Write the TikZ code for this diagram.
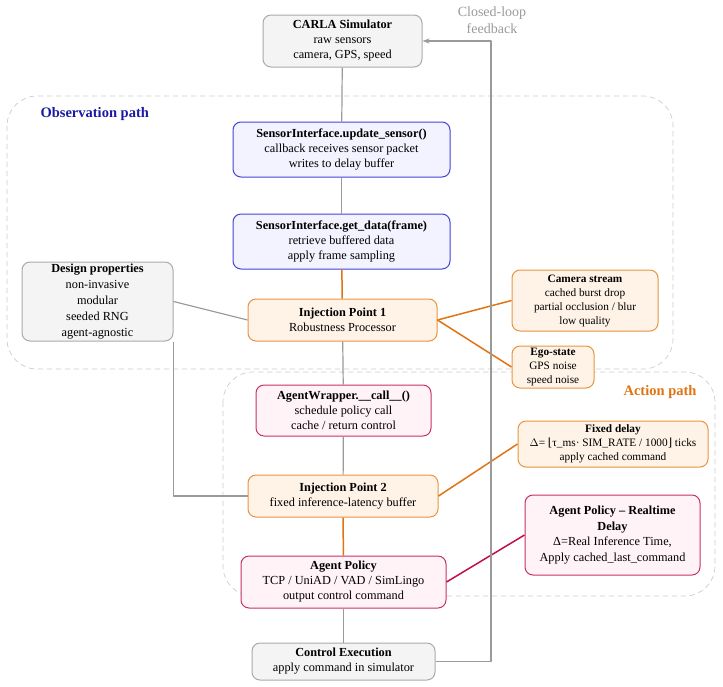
\documentclass[tikz,border=0pt]{standalone}
\usepackage{fontspec}
\setmainfont{Liberation Serif}
\newfontfamily\symfont{DejaVu Serif}
\usetikzlibrary{arrows.meta}
\definecolor{edgegray}{HTML}{AAAAAA}
\definecolor{fillgray}{HTML}{F4F4F4}
\definecolor{edgeblue}{HTML}{4343D9}
\definecolor{fillblue}{HTML}{F3F3FF}
\definecolor{edgeorange}{HTML}{E8943F}
\definecolor{fillorange}{HTML}{FEF3E6}
\definecolor{edgepink}{HTML}{C8306A}
\definecolor{fillpink}{HTML}{FFF3F8}
\definecolor{linegray}{HTML}{9A9A9A}
\definecolor{lineorange}{HTML}{E07312}
\definecolor{linepink}{HTML}{C0104C}
\definecolor{regiongray}{HTML}{CCCCCC}
\definecolor{obsblue}{HTML}{1A1AA6}
\tikzset{
  every picture/.style={line join=round, line cap=round, >=Stealth},
  box/.style={rounded corners=8pt, line width=1pt, align=center, inner sep=0pt,
    font=\fontsize{12.3}{15}\selectfont},
  graybox/.style={box, draw=edgegray, fill=fillgray},
  bluebox/.style={box, draw=edgeblue, fill=fillblue},
  orangebox/.style={box, draw=edgeorange, fill=fillorange},
  pinkbox/.style={box, draw=edgepink, fill=fillpink},
  small/.style={font=\fontsize{11.3}{14}\selectfont},
  region/.style={draw=regiongray, line width=0.7pt, dash pattern=on 5pt off 4pt, rounded corners=30pt},
  link/.style={draw=linegray, line width=1.2pt, line cap=butt},
  olink/.style={draw=lineorange, line width=1.5pt, line cap=butt},
  plink/.style={draw=linepink, line width=1.5pt, line cap=butt},
}

\begin{document}
\begin{tikzpicture}[x=1pt,y=-1pt]
\useasboundingbox (0,0) rectangle (723,686);
% dashed regions
\draw[region] (7,96) rectangle (673,369);
\draw[region] (223,372) rectangle (715,596);
\node[anchor=west, text=obsblue, font=\fontsize{14.5}{15}\selectfont\bfseries] (obslabel) at (37,114) {Observation path};
\node[anchor=east, text=lineorange, font=\fontsize{14.5}{15}\selectfont\bfseries] (actlabel) at (700,392) {Action path};

% main column
\node[graybox, minimum width=159pt, minimum height=52pt] (carla) at (342.5,41)
  {\textbf{CARLA Simulator}\\raw sensors\\camera, GPS, speed};
\node[bluebox, minimum width=217pt, minimum height=55pt] (update) at (341.5,149.5)
  {\textbf{SensorInterface.update\_sensor()}\\callback receives sensor packet\\writes to delay buffer};
\node[bluebox, minimum width=217pt, minimum height=55pt] (getdata) at (341.5,241.5)
  {\textbf{SensorInterface.get\_data(frame)}\\retrieve buffered data\\apply frame sampling};
\node[orangebox, minimum width=189pt, minimum height=42pt] (ip1) at (342.5,320)
  {\textbf{Injection Point 1}\\Robustness Processor};
\node[pinkbox, minimum width=175pt, minimum height=51pt] (wrapper) at (343.5,410.5)
  {\textbf{AgentWrapper.\_\_call\_\_()}\\schedule policy call\\cache / return control};
\node[orangebox, minimum width=190pt, minimum height=42pt] (ip2) at (343,496)
  {\textbf{Injection Point 2}\\fixed inference-latency buffer};
\node[pinkbox, minimum width=205pt, minimum height=52pt] (policy) at (343.5,582)
  {\textbf{Agent Policy}\\TCP / UniAD / VAD / SimLingo\\output control command};
\node[graybox, minimum width=183pt, minimum height=37pt] (exec) at (343.5,661.5)
  {\textbf{Control Execution}\\apply command in simulator};

% side boxes
\node[graybox, minimum width=151pt, minimum height=79pt, font=\fontsize{12.3}{16}\selectfont] (design) at (97.5,301.5)
  {\textbf{Design properties}\\non-invasive\\modular\\seeded RNG\\agent-agnostic};
\node[orangebox, small, minimum width=146pt, minimum height=61pt] (camera) at (585,300.5)
  {\textbf{Camera stream}\\cached burst drop\\partial occlusion / blur\\low quality};
\node[orangebox, small, minimum width=82pt, minimum height=42pt] (ego) at (553,367)
  {\textbf{Ego-state}\\GPS noise\\speed noise};
\node[orangebox, small, minimum width=190pt, minimum height=46pt] (fixdelay) at (613,444)
  {\textbf{Fixed delay}\\$\Delta$= {\symfont⌊}τ\_ms· SIM\_RATE / 1000{\symfont⌋} ticks\\apply cached command};
\node[pinkbox, minimum width=175pt, minimum height=80pt, font=\fontsize{12.3}{15.5}\selectfont] (realtime) at (612.5,535)
  {\textbf{Agent Policy – Realtime}\\\textbf{Delay}\\Δ=Real Inference Time,\\Apply cached\_last\_command};

% connectors
\draw[link] (carla) -- (update);
\draw[link] (update) -- (getdata);
\draw[olink] (getdata) -- (ip1);
\draw[link] (ip1) -- (wrapper);
\draw[link] (wrapper) -- (ip2);
\draw[olink] (ip2) -- (policy);
\draw[link] (policy) -- (exec);
\draw[olink] (ip1.east) -- (camera.west);
\draw[olink] (ip1.east) -- (ego.west);
\draw[olink] (ip2.east) -- (fixdelay.west);
\draw[plink] (policy.east) -- (realtime.west);
\draw[link] (design.east) -- (ip1.west);
\draw[link] (design.south east) |- (ip2.west);

% closed loop
\coordinate (loop) at (491,0);
\draw[link, -{Stealth[length=7pt,width=5pt]}] (exec.east) -- (exec.east -| loop) -- (carla.east -| loop) -- (carla.east);
\node[text=linegray, align=center, font=\fontsize{14}{17}\selectfont] (looplabel) at (492,20) {Closed-loop\\feedback};
\end{tikzpicture}
\end{document}
